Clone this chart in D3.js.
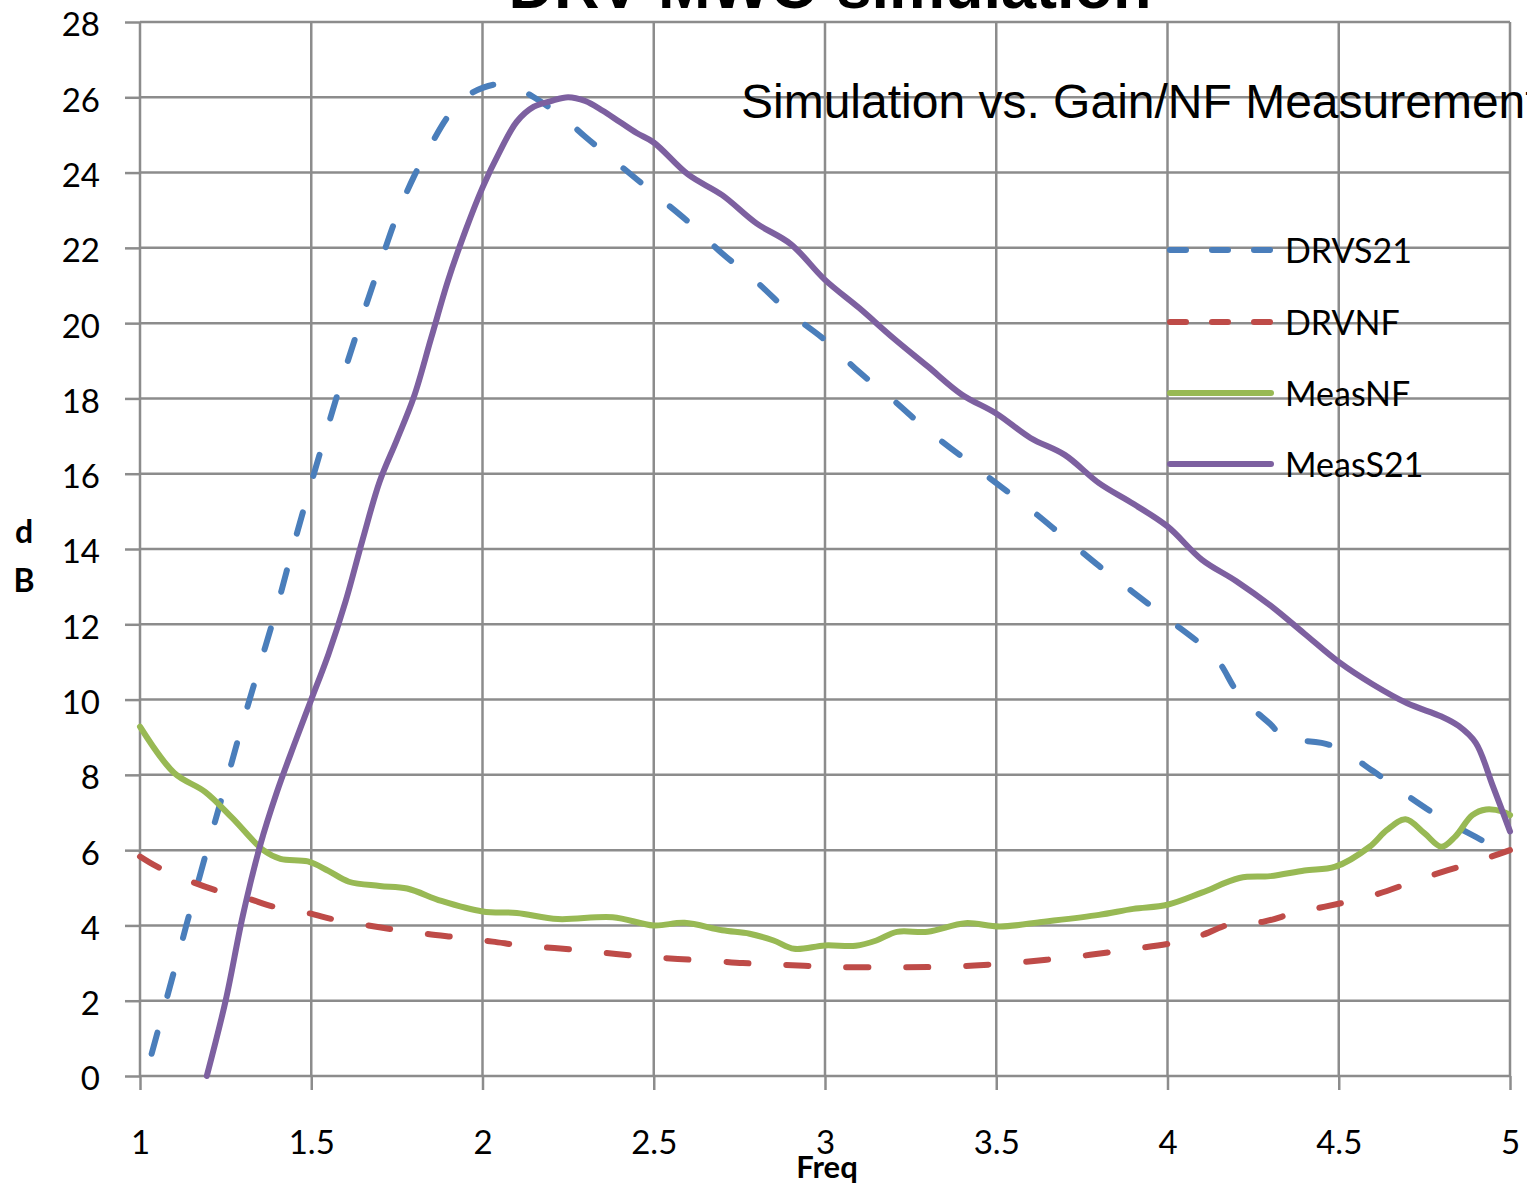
<!DOCTYPE html>
<html>
<head>
<meta charset="utf-8">
<script src="https://cdn.jsdelivr.net/npm/d3@7"></script>
<style>
  html, body { margin: 0; padding: 0; background: #fff; }
  svg { display: block; }
</style>
</head>
<body>
<svg id="chart" width="1527" height="1187"></svg>
<script>
// ---------- DATA ----------
const chartTitle = "DRV MWO simulation";
const subTitle = "Simulation vs. Gain/NF Measurement";
const xAxisTitle = "Freq";
const yAxisTitle = ["d", "B"];
const xTicks = [1, 1.5, 2, 2.5, 3, 3.5, 4, 4.5, 5];
const yTicks = [0, 2, 4, 6, 8, 10, 12, 14, 16, 18, 20, 22, 24, 26, 28];
const seriesNames = ["DRVS21", "DRVNF", "MeasNF", "MeasS21"];

const drvS21Freq = [1.034,1.1,1.15,1.2,1.25,1.3,1.35,1.4,1.45,1.5,1.55,1.6,1.65,1.7,1.75,1.8,1.85,1.9,1.95,2.0,2.05,2.1,2.15,2.2,2.25,2.3,2.4,2.5,2.6,2.7,2.8,2.9,3.0,3.1,3.2,3.3,3.4,3.5,3.6,3.7,3.8,3.9,4.0,4.1,4.15,4.2,4.25,4.3,4.35,4.4,4.45,4.5,4.6,4.7,4.8,4.9,5.0];
const drvS21 = [0.59,2.8,4.5,6.15,7.75,9.38,10.92,12.46,14.15,15.75,17.3,18.8,20.2,21.55,22.85,23.9,24.75,25.5,26.0,26.25,26.35,26.25,26.0,25.7,25.35,24.95,24.2,23.45,22.7,21.85,21.1,20.25,19.55,18.7,17.95,17.15,16.45,15.75,15.05,14.3,13.55,12.85,12.15,11.45,11.0,10.25,9.75,9.35,8.9,8.9,8.85,8.7,8.1,7.45,6.85,6.35,5.87];

const drvNFFreq = [1.0,1.05,1.14,1.22,1.31,1.39,1.49,1.57,1.66,1.75,1.84,1.94,2.03,2.12,2.21,2.3,2.39,2.48,2.57,2.67,2.76,2.84,2.94,3.0,3.16,3.34,3.53,3.71,3.89,4.06,4.1,4.2,4.28,4.37,4.46,4.59,4.76,4.93,5.0];
const drvNF = [5.83,5.56,5.2,4.94,4.73,4.5,4.33,4.15,4.01,3.88,3.77,3.67,3.57,3.46,3.4,3.33,3.24,3.17,3.11,3.06,3.0,2.97,2.93,2.9,2.89,2.9,2.99,3.15,3.36,3.61,3.74,4.08,4.1,4.33,4.5,4.77,5.3,5.78,6.0];

const measNFFreq = [1.0,1.1,1.19,1.27,1.36,1.41,1.49,1.55,1.61,1.7,1.78,1.88,2.0,2.1,2.22,2.38,2.5,2.59,2.7,2.78,2.85,2.91,3.0,3.09,3.15,3.21,3.3,3.41,3.51,3.64,3.8,3.9,4.0,4.1,4.21,4.3,4.4,4.49,4.59,4.64,4.695,4.75,4.8,4.84,4.89,4.93,4.98,5.0];
const measNF = [9.28,8.05,7.55,6.85,6.0,5.77,5.7,5.45,5.16,5.05,4.98,4.65,4.37,4.33,4.17,4.22,4.0,4.07,3.87,3.78,3.6,3.38,3.47,3.46,3.6,3.83,3.83,4.06,3.97,4.1,4.28,4.44,4.55,4.87,5.26,5.31,5.46,5.56,6.09,6.53,6.82,6.45,6.09,6.36,6.93,7.08,7.02,6.93];

const measS21Freq = [1.195,1.25,1.3,1.35,1.4,1.45,1.5,1.55,1.6,1.65,1.7,1.75,1.8,1.85,1.9,1.95,2.0,2.05,2.1,2.15,2.2,2.25,2.3,2.35,2.4,2.45,2.5,2.6,2.7,2.8,2.9,3.0,3.1,3.2,3.3,3.4,3.5,3.6,3.7,3.8,3.9,4.0,4.1,4.2,4.3,4.4,4.5,4.6,4.7,4.8,4.85,4.9,4.95,5.0];
const measS21 = [0,2.0,4.25,6.1,7.55,8.8,10.0,11.2,12.6,14.25,15.8,16.9,18.05,19.6,21.15,22.45,23.6,24.55,25.35,25.75,25.9,26.0,25.9,25.65,25.35,25.05,24.8,23.95,23.4,22.65,22.1,21.15,20.4,19.6,18.85,18.1,17.6,16.95,16.5,15.75,15.2,14.6,13.72,13.15,12.5,11.75,11.0,10.4,9.9,9.55,9.3,8.85,7.7,6.5];

// ---------- LAYOUT ----------
const svg = d3.select("#chart");
const plotL = 140, plotR = 1510, plotT = 22, plotB = 1076;
const x = d3.scaleLinear().domain([1, 5]).range([plotL, plotR]);
const y = d3.scaleLinear().domain([0, 28]).range([plotB, plotT]);
const gridColor = "#8c8c8c";
const tickFont = "Lato, 'Open Sans', sans-serif";

// gridlines
svg.append("g").selectAll("line").data(yTicks).join("line")
  .attr("x1", plotL).attr("x2", plotR)
  .attr("y1", d => y(d)).attr("y2", d => y(d))
  .attr("stroke", gridColor).attr("stroke-width", 2.5);
svg.append("g").selectAll("line").data(xTicks).join("line")
  .attr("y1", plotT).attr("y2", plotB)
  .attr("x1", d => x(d)).attr("x2", d => x(d))
  .attr("stroke", gridColor).attr("stroke-width", 2.5);

// axes
const yAxis = svg.append("g").attr("transform", `translate(${plotL},0)`)
  .call(d3.axisLeft(y).tickValues(yTicks).tickSize(15).tickPadding(25).tickFormat(d3.format("d")));
const xAxis = svg.append("g").attr("transform", `translate(0,${plotB})`)
  .call(d3.axisBottom(x).tickValues(xTicks).tickSize(14).tickPadding(41).tickFormat(d => String(d)));
[yAxis, xAxis].forEach(g => {
  g.select(".domain").remove();
  g.selectAll(".tick line").attr("stroke", gridColor).attr("stroke-width", 2.5);
  g.selectAll(".tick text").attr("fill", "#000").style("font-family", tickFont).style("font-size", "33px");
});
yAxis.selectAll(".tick text").attr("dy", "0.42em");

// series
const lineGen = d3.line().x(d => x(d[0])).y(d => y(d[1])).curve(d3.curveCatmullRom.alpha(0.5));
const series = [
  { name: seriesNames[0], f: drvS21Freq, v: drvS21, color: "#4A7EBB", dash: "22,38" },
  { name: seriesNames[1], f: drvNFFreq, v: drvNF, color: "#BE4B48", dash: "22,38" },
  { name: seriesNames[2], f: measNFFreq, v: measNF, color: "#98B954", dash: null },
  { name: seriesNames[3], f: measS21Freq, v: measS21, color: "#7D60A0", dash: null }
];
series.forEach(s => {
  const pts = s.f.map((f, k) => [f, s.v[k]]);
  svg.append("path").datum(pts).attr("d", lineGen)
    .attr("fill", "none").attr("stroke", s.color).attr("stroke-width", 6)
    .attr("stroke-linecap", "round").attr("stroke-linejoin", "round")
    .attr("stroke-dasharray", s.dash);
});

// legend
const legendY = [250, 322, 393, 464];
const lg = svg.append("g");
series.forEach((s, i) => {
  lg.append("line").attr("x1", 1170).attr("x2", 1271)
    .attr("y1", legendY[i]).attr("y2", legendY[i])
    .attr("stroke", s.color).attr("stroke-width", 6).attr("stroke-linecap", "round")
    .attr("stroke-dasharray", s.dash ? "16,26" : null);
  lg.append("text").attr("x", 1285).attr("y", legendY[i] + 13)
    .style("font-family", tickFont).style("font-size", "34px").attr("fill", "#000")
    .text(s.name);
});

// titles
svg.append("text").attr("x", 830).attr("y", 8).attr("text-anchor", "middle")
  .style("font-family", "'Liberation Sans', Arial, sans-serif").style("font-weight", "bold")
  .style("font-size", "63px").text(chartTitle);
svg.append("text").attr("x", 741).attr("y", 118)
  .style("font-family", "'Liberation Sans', Arial, sans-serif")
  .style("font-size", "48px").text(subTitle);
svg.append("text").attr("x", 827).attr("y", 1178).attr("text-anchor", "middle")
  .style("font-family", tickFont).style("font-weight", "bold").style("font-size", "31px")
  .text(xAxisTitle);
yAxisTitle.forEach((t, i) => {
  svg.append("text").attr("x", 24).attr("y", [543, 592][i]).attr("text-anchor", "middle")
    .style("font-family", tickFont).style("font-weight", "bold").style("font-size", "32px")
    .text(t);
});
</script>
</body>
</html>
